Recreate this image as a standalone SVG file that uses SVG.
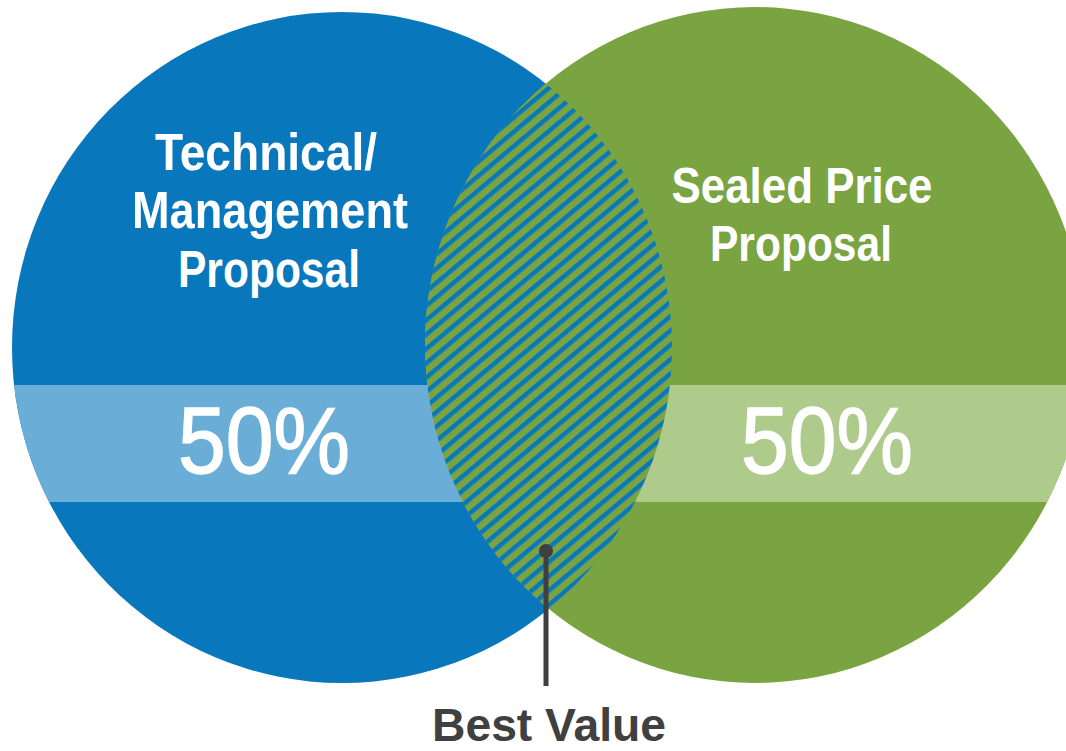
<svg xmlns="http://www.w3.org/2000/svg" width="1066" height="751" viewBox="0 0 1066 751">
<style>
.lbl{font-family:"Liberation Sans",Arial,sans-serif;fill:#ffffff;text-anchor:middle;font-weight:bold;}
.pct{font-family:"Liberation Sans",Arial,sans-serif;fill:#ffffff;stroke:#ffffff;stroke-width:1.5;text-anchor:middle;font-size:94px;}
.bv{font-family:"Liberation Sans",Arial,sans-serif;fill:#404040;text-anchor:middle;font-size:46px;font-weight:bold;}
</style>
<defs>
<clipPath id="clipBlue"><ellipse cx="342" cy="347.5" rx="330" ry="335.5"/></clipPath>
<clipPath id="clipGreen"><ellipse cx="755" cy="345" rx="330" ry="338"/></clipPath>
<pattern id="stripes" patternUnits="userSpaceOnUse" width="11" height="11" patternTransform="rotate(-40)">
<rect width="11" height="11" fill="#7aa441"/>
<rect width="11" height="4.5" fill="#0877bc"/>
</pattern>
</defs>
<rect width="1066" height="751" fill="#ffffff"/>
<g id="technical">
<ellipse cx="342" cy="347.5" rx="330" ry="335.5" fill="#0877bc"/>
<rect x="0" y="385" width="700" height="117" fill="#6aaed7" clip-path="url(#clipBlue)"/>
</g>
<g id="price">
<ellipse cx="755" cy="345" rx="330" ry="338" fill="#7aa441"/>
<rect x="400" y="385" width="666" height="117" fill="#aecb8b" clip-path="url(#clipGreen)"/>
</g>
<g id="bestvalue-lens">
<ellipse cx="755" cy="345" rx="330" ry="338" fill="url(#stripes)" clip-path="url(#clipBlue)"/>
</g>
<g id="labels-technical">
<text class="lbl" x="266" y="170" font-size="52" textLength="222" lengthAdjust="spacingAndGlyphs">Technical/</text>
<text class="lbl" x="270" y="228" font-size="52" textLength="276" lengthAdjust="spacingAndGlyphs">Management</text>
<text class="lbl" x="269" y="287" font-size="52" textLength="182" lengthAdjust="spacingAndGlyphs">Proposal</text>
<text class="pct" x="264" y="473" textLength="172" lengthAdjust="spacingAndGlyphs">50%</text>
</g>
<g id="labels-price">
<text class="lbl" x="802" y="203" font-size="50" textLength="261" lengthAdjust="spacingAndGlyphs">Sealed Price</text>
<text class="lbl" x="801" y="261" font-size="50" textLength="182" lengthAdjust="spacingAndGlyphs">Proposal</text>
<text class="pct" x="827" y="473" textLength="172" lengthAdjust="spacingAndGlyphs">50%</text>
</g>
<g id="connectors">
<line x1="546" y1="551" x2="546" y2="686" stroke="#3f3f3f" stroke-width="5"/>
<circle cx="546" cy="551" r="7" fill="#3f3f3f"/>
</g>
<g id="bestvalue-label">
<text class="bv" x="549" y="741" textLength="234" lengthAdjust="spacingAndGlyphs">Best Value</text>
</g>
</svg>
